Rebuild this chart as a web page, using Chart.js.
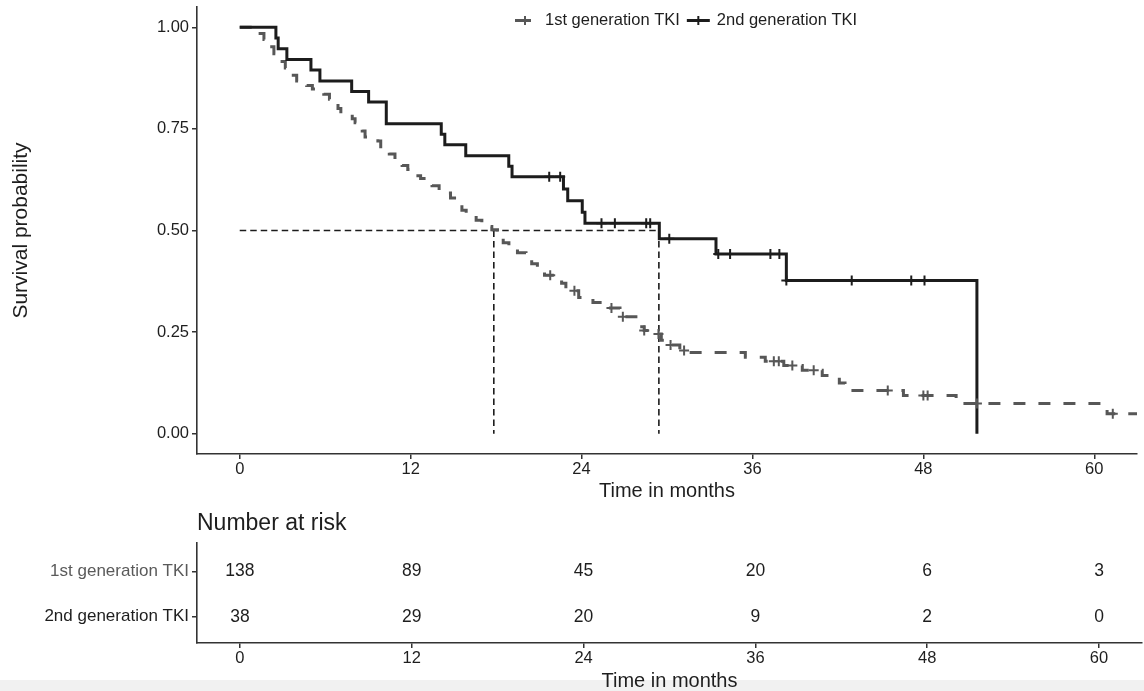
<!DOCTYPE html>
<html>
<head>
<meta charset="utf-8">
<script src="https://cdn.jsdelivr.net/npm/chart.js@4.4.1/dist/chart.umd.min.js"></script>
<style>
html,body{margin:0;padding:0;background:#fff;overflow:hidden;width:1144px;height:691px;}
#strip{position:absolute;left:0;top:680px;width:1144px;height:11px;background:#f1f1f1;}
#c1{position:absolute;left:0;top:0;}
#c2{position:absolute;left:0;top:500px;}
</style>
</head>
<body>
<div id="strip"></div>
<canvas id="c1" width="1144" height="505"></canvas>
<canvas id="c2" width="1144" height="195"></canvas>
<script>
// ---------------- data ----------------
const groupNames = ['1st generation TKI', '2nd generation TKI'];

const xTicks = [0, 12, 24, 36, 48, 60];
const yTicks = [0, 0.25, 0.5, 0.75, 1];

// 1st generation TKI: step times (months) and survival after each step
const gen1Times = [0, 1.3, 1.7, 2.0, 2.4, 2.8, 3.2, 3.6, 4.0, 4.7, 5.1, 5.9, 6.3, 6.9, 7.1, 7.9, 8.1, 8.6, 8.8, 9.7, 9.9,
  10.5, 10.9, 11.4, 11.8, 12.2, 12.7, 13.5, 14.0, 14.8, 15.2, 15.6, 15.9, 16.6, 17.0, 17.7, 18.1, 18.5, 18.9, 19.5, 20.1,
  20.5, 20.9, 21.4, 22.6, 22.9, 23.8, 24.8, 25.9, 26.7, 28.1, 28.4, 29.2, 29.6, 30.0, 30.9, 31.3, 35.5, 36.9, 38.2, 39.5,
  40.9, 42.1, 42.5, 46.6, 50.3, 60.9, 63];
const gen1Surv = [1.0, 0.985, 0.970, 0.952, 0.935, 0.916, 0.900, 0.882, 0.868, 0.857, 0.848, 0.835, 0.823, 0.800, 0.785, 0.775, 0.765, 0.745, 0.730, 0.720, 0.700,
  0.688, 0.675, 0.660, 0.650, 0.635, 0.628, 0.610, 0.592, 0.580, 0.565, 0.550, 0.537, 0.525, 0.510, 0.502, 0.490, 0.470, 0.455, 0.445, 0.432,
  0.418, 0.400, 0.390, 0.370, 0.352, 0.335, 0.323, 0.309, 0.288, 0.263, 0.254, 0.245, 0.230, 0.218, 0.205, 0.200, 0.188, 0.178, 0.168, 0.156,
  0.143, 0.125, 0.106, 0.094, 0.074, 0.049, 0.049];
const gen1Censor = [21.8, 23.5, 26.1, 26.9, 28.4, 29.4, 30.25, 31.2, 37.5, 37.85, 38.8, 40.3, 45.5, 48.0, 48.3, 51.76, 61.3];

// 2nd generation TKI
const gen2Times = [0, 2.54, 2.70, 3.31, 5.00, 5.63, 7.86, 9.05, 10.29, 14.15, 14.40, 15.87, 18.89, 19.12, 22.73, 23.03,
  24.05, 24.24, 29.46, 33.44, 38.38, 51.76];
const gen2Surv = [1.0, 0.974, 0.947, 0.921, 0.895, 0.868, 0.842, 0.816, 0.763, 0.737, 0.711, 0.684, 0.658, 0.632, 0.602, 0.573,
  0.545, 0.518, 0.480, 0.442, 0.377, 0.0];
const gen2Censor = [21.73, 22.5, 25.4, 26.34, 28.54, 28.82, 30.16, 33.6, 34.43, 37.26, 37.89, 38.38, 42.97, 47.15, 48.08];

// median survival reference lines
const medianLevel = 0.5;
const medianTimes = [17.84, 29.43];

// number at risk table
const riskTimes = [0, 12, 24, 36, 48, 60];
const riskGen1 = [138, 89, 45, 20, 6, 3];
const riskGen2 = [38, 29, 20, 9, 2, 0];

// ---------------- styling ----------------
const FONT = '"Liberation Sans", Arimo, Arial, sans-serif';
const GRAY = '#575757';
const BLACK = '#1c1c1c';
const AXIS = '#333333';
const TXT = '#1e1e1e';
const X_MIN = -3, X_MAX = 63;

function pts(ts, vs) { return ts.map((t, i) => ({x: t, y: vs[i]})); }
function survAt(ts, vs, t) { let v = vs[0]; for (let i = 0; i < ts.length; i++) { if (ts[i] <= t) v = vs[i]; } return v; }
function censorPts(ts, vs, cs) { return cs.map(c => ({x: c, y: survAt(ts, vs, c)})); }

function xAxis(height, titlePadBottom) {
  return {
    type: 'linear', min: X_MIN, max: X_MAX,
    afterBuildTicks: s => { s.ticks = xTicks.map(v => ({value: v})); },
    afterFit: s => { s.height = height; s.paddingLeft = 0; s.paddingRight = 0; },
    grid: {drawOnChartArea: false, drawTicks: true, tickLength: 5, color: AXIS, lineWidth: 1.5},
    border: {display: true, color: AXIS, width: 1.6},
    ticks: {color: TXT, font: {family: FONT, size: 16.5}, padding: 1, maxRotation: 0, autoSkip: false, callback: v => String(v)},
    title: {display: true, text: 'Time in months', color: TXT, font: {family: FONT, size: 20}, padding: {top: 0, bottom: titlePadBottom}}
  };
}

// legend drawn on the plot
const kmLegend = {
  id: 'kmLegend',
  afterDraw(chart) {
    const ctx = chart.ctx;
    const y = 20.5;
    ctx.save();
    ctx.font = '16.5px ' + FONT;
    ctx.textBaseline = 'middle';
    ctx.textAlign = 'left';
    ctx.fillStyle = TXT;
    let x = chart.chartArea.left + 318;
    // item 1 (gray)
    ctx.strokeStyle = GRAY; ctx.lineWidth = 3;
    ctx.beginPath(); ctx.moveTo(x, y); ctx.lineTo(x + 16, y); ctx.stroke();
    ctx.lineWidth = 2;
    ctx.beginPath(); ctx.moveTo(x + 10, y - 4.5); ctx.lineTo(x + 10, y + 4.5); ctx.stroke();
    x += 30;
    ctx.fillText(groupNames[0], x, y);
    x += ctx.measureText(groupNames[0]).width + 7;
    // item 2 (black)
    ctx.strokeStyle = BLACK; ctx.lineWidth = 3;
    ctx.beginPath(); ctx.moveTo(x, y); ctx.lineTo(x + 23, y); ctx.stroke();
    ctx.lineWidth = 2;
    ctx.beginPath(); ctx.moveTo(x + 11.5, y - 4.5); ctx.lineTo(x + 11.5, y + 4.5); ctx.stroke();
    x += 30;
    ctx.fillText(groupNames[1], x, y);
    ctx.restore();
  }
};

const medianStyle = {borderColor: BLACK, borderWidth: 1.6, borderDash: [6.5, 4], pointRadius: 0, fill: false};

new Chart(document.getElementById('c1'), {
  type: 'line',
  data: {
    datasets: [
      {label: groupNames[0], data: pts(gen1Times, gen1Surv), stepped: true, borderColor: GRAY, borderWidth: 3,
       borderDash: [12, 13], pointRadius: 0, fill: false, order: 2},
      {label: groupNames[1], data: pts(gen2Times, gen2Surv), stepped: true, borderColor: BLACK, borderWidth: 3,
       pointRadius: 0, fill: false, order: 1},
      {label: 'censor1', data: censorPts(gen1Times, gen1Surv, gen1Censor), showLine: false, pointStyle: 'cross',
       pointRadius: 5, pointBorderWidth: 2, borderColor: GRAY, backgroundColor: GRAY, order: 0},
      {label: 'censor2', data: censorPts(gen2Times, gen2Surv, gen2Censor), showLine: false, pointStyle: 'cross',
       pointRadius: 5, pointBorderWidth: 2, borderColor: BLACK, backgroundColor: BLACK, order: 0},
      Object.assign({label: 'median', data: [{x: 0, y: medianLevel}, {x: medianTimes[1], y: medianLevel}], order: 3}, medianStyle),
      Object.assign({label: 'median1', data: [{x: medianTimes[0], y: medianLevel}, {x: medianTimes[0], y: 0}], order: 3}, medianStyle),
      Object.assign({label: 'median2', data: [{x: medianTimes[1], y: medianLevel}, {x: medianTimes[1], y: 0}], order: 3}, medianStyle)
    ]
  },
  options: {
    responsive: false, animation: false,
    layout: {padding: {left: 0, right: 2, top: 6, bottom: 0}},
    plugins: {legend: {display: false}, tooltip: {enabled: false}},
    scales: {
      x: xAxis(51, 2),
      y: {
        type: 'linear', min: -0.05, max: 1.05,
        afterBuildTicks: s => { s.ticks = yTicks.map(v => ({value: v})); },
        afterFit: s => { s.width = 197; s.paddingTop = 0; s.paddingBottom = 0; },
        grid: {drawOnChartArea: false, drawTicks: true, tickLength: 5, color: AXIS, lineWidth: 1.5},
        border: {display: true, color: AXIS, width: 1.6},
        ticks: {color: TXT, font: {family: FONT, size: 16.5}, padding: 3, callback: v => Number(v).toFixed(2)},
        title: {display: true, text: 'Survival probability', color: TXT, font: {family: FONT, size: 21}, padding: {top: 9, bottom: 0}}
      }
    }
  },
  plugins: [kmLegend]
});

// ---------------- number at risk table ----------------
const rowValues = [2, 1]; // row positions for 1st / 2nd generation
const riskLabels = {
  id: 'riskLabels',
  afterDatasetsDraw(chart) {
    const ctx = chart.ctx;
    const xs = chart.scales.x, ys = chart.scales.y;
    ctx.save();
    ctx.font = '17.5px ' + FONT;
    ctx.textAlign = 'center';
    ctx.textBaseline = 'middle';
    ctx.fillStyle = TXT;
    chart.data.datasets.forEach(ds => {
      ds.data.forEach(p => {
        ctx.fillText(String(p.n), xs.getPixelForValue(p.x), ys.getPixelForValue(p.y));
      });
    });
    ctx.font = '23px ' + FONT;
    ctx.textAlign = 'left';
    ctx.fillText('Number at risk', chart.chartArea.left, 24);
    ctx.restore();
  }
};

new Chart(document.getElementById('c2'), {
  type: 'scatter',
  data: {
    datasets: [
      {label: groupNames[0], data: riskTimes.map((t, i) => ({x: t, y: rowValues[0], n: riskGen1[i]})), pointRadius: 0},
      {label: groupNames[1], data: riskTimes.map((t, i) => ({x: t, y: rowValues[1], n: riskGen2[i]})), pointRadius: 0}
    ]
  },
  options: {
    responsive: false, animation: false,
    layout: {padding: {left: 0, right: 2, top: 43, bottom: 0}},
    plugins: {legend: {display: false}, tooltip: {enabled: false}},
    scales: {
      x: xAxis(52, 2),
      y: {
        type: 'linear', min: 0.415, max: 2.637,
        afterBuildTicks: s => { s.ticks = rowValues.slice().reverse().map(v => ({value: v})); },
        afterFit: s => { s.width = 197; s.paddingTop = 0; s.paddingBottom = 0; },
        grid: {drawOnChartArea: false, drawTicks: true, tickLength: 5, color: AXIS, lineWidth: 1.5},
        border: {display: true, color: AXIS, width: 1.6},
        ticks: {
          font: {family: FONT, size: 17},
          padding: 3,
          color: c => (c.tick && c.tick.value === rowValues[0]) ? '#5a5a5a' : TXT,
          callback: v => v === rowValues[0] ? groupNames[0] : groupNames[1]
        }
      }
    }
  },
  plugins: [riskLabels]
});
</script>
</body>
</html>
